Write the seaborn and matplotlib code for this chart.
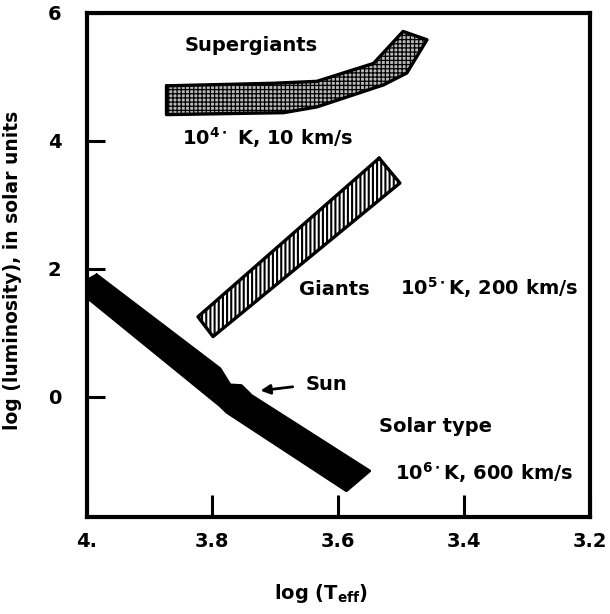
import matplotlib
matplotlib.use("Agg")
import matplotlib.pyplot as plt
import seaborn as sns
import pandas as pd

# ---- data (log Teff, log L) ----
solar_x = [3.984, 3.998, 3.998, 3.788, 3.777, 3.587, 3.550, 3.738, 3.754, 3.772, 3.788]
solar_y = [1.906, 1.828, 1.540, -0.140, -0.245, -1.470, -1.160, 0.020, 0.175, 0.185, 0.440]

giants_x = [3.535, 3.502, 3.799, 3.823]
giants_y = [3.73, 3.34, 0.94, 1.25]

super_x = [3.873, 3.703, 3.634, 3.544, 3.497, 3.459, 3.491, 3.528, 3.634, 3.687, 3.873]
super_y = [4.86, 4.90, 4.93, 5.21, 5.71, 5.58, 5.06, 4.875, 4.53, 4.44, 4.41]

x_ticks = [4.0, 3.8, 3.6, 3.4, 3.2]
x_tick_labels = ["4.", "3.8", "3.6", "3.4", "3.2"]
y_ticks = [0, 2, 4, 6]
y_tick_labels = ["0", "2", "4", "6"]

sun_point = (3.728, 0.09)
sun_tail = (3.668, 0.16)

sns.set_theme(style="white")
plt.rcParams["font.family"] = ["DejaVu Sans"]
plt.rcParams["font.weight"] = "bold"
plt.rcParams["mathtext.default"] = "bf"
plt.rcParams["hatch.linewidth"] = 1.0
plt.rcParams["hatch.color"] = "black"
for k in ["text.color", "axes.labelcolor", "xtick.color", "ytick.color", "axes.edgecolor"]:
    plt.rcParams[k] = "black"

fig = plt.figure(figsize=(6.1, 6.14), dpi=100)
ax = fig.add_axes([0.142, 0.158, 0.825, 0.821])

def band(xs, ys, face, hatch, lw, hlw):
    polys = ax.fill(xs, ys, facecolor=face, edgecolor="black", hatch=hatch, linewidth=0, zorder=2)
    for p in polys:
        try:
            p.set_hatch_linewidth(hlw)
        except Exception:
            pass
    df = pd.DataFrame({"x": list(xs) + [xs[0]], "y": list(ys) + [ys[0]]})
    sns.lineplot(data=df, x="x", y="y", sort=False, estimator=None, color="black",
                 linewidth=lw, ax=ax, zorder=3)

band(solar_x, solar_y, "black", None, 2.0, 1.0)
band(giants_x, giants_y, "white", "||||", 2.4, 1.5)
band(super_x, super_y, "#b8b8b8", "++++", 2.4, 0.9)

fs = 14
ax.text(3.739, 5.40, "Supergiants", ha="center", va="baseline", fontsize=fs)
ax.text(3.713, 3.94, r"10$^{4\bullet}$ K, 10 km/s", ha="center", va="baseline", fontsize=fs)
ax.text(3.606, 1.59, "Giants", ha="center", va="baseline", fontsize=fs)
ax.text(3.361, 1.59, r"10$^{5\bullet}$K, 200 km/s", ha="center", va="baseline", fontsize=fs)
ax.text(3.445, -0.55, "Solar type", ha="center", va="baseline", fontsize=fs)
ax.text(3.368, -1.30, r"10$^{6\bullet}$K, 600 km/s", ha="center", va="baseline", fontsize=fs)
ax.text(3.619, 0.11, "Sun", ha="center", va="baseline", fontsize=fs)
ax.annotate("", xy=sun_point, xytext=sun_tail,
            arrowprops=dict(arrowstyle="-|>", color="black", lw=2, mutation_scale=14))

ax.set_xlim(4.0, 3.2)
ax.set_ylim(-1.88, 6.0)
ax.set_xticks(x_ticks)
ax.set_xticklabels(x_tick_labels, fontsize=fs, fontweight="bold")
ax.set_yticks(y_ticks)
ax.set_yticklabels(y_tick_labels, fontsize=fs, fontweight="bold")
ax.tick_params(axis="x", direction="in", length=16, width=2.2, pad=11, bottom=True, top=False, colors="black")
ax.tick_params(axis="y", direction="in", length=13, width=2.2, pad=18, left=True, right=False, colors="black")

ax.set_xlabel(r"log (T$_{eff}$)", fontsize=fs, fontweight="bold")
ax.set_ylabel("log (luminosity), in solar units", fontsize=13.5, fontweight="bold")
ax.xaxis.set_label_coords(0.466, -0.128)
ax.yaxis.set_label_coords(-0.128, 0.49)

for s in ax.spines.values():
    s.set_linewidth(3)
    s.set_color("black")
ax.grid(False)

fig.savefig("out.png", dpi=100, facecolor="white")
